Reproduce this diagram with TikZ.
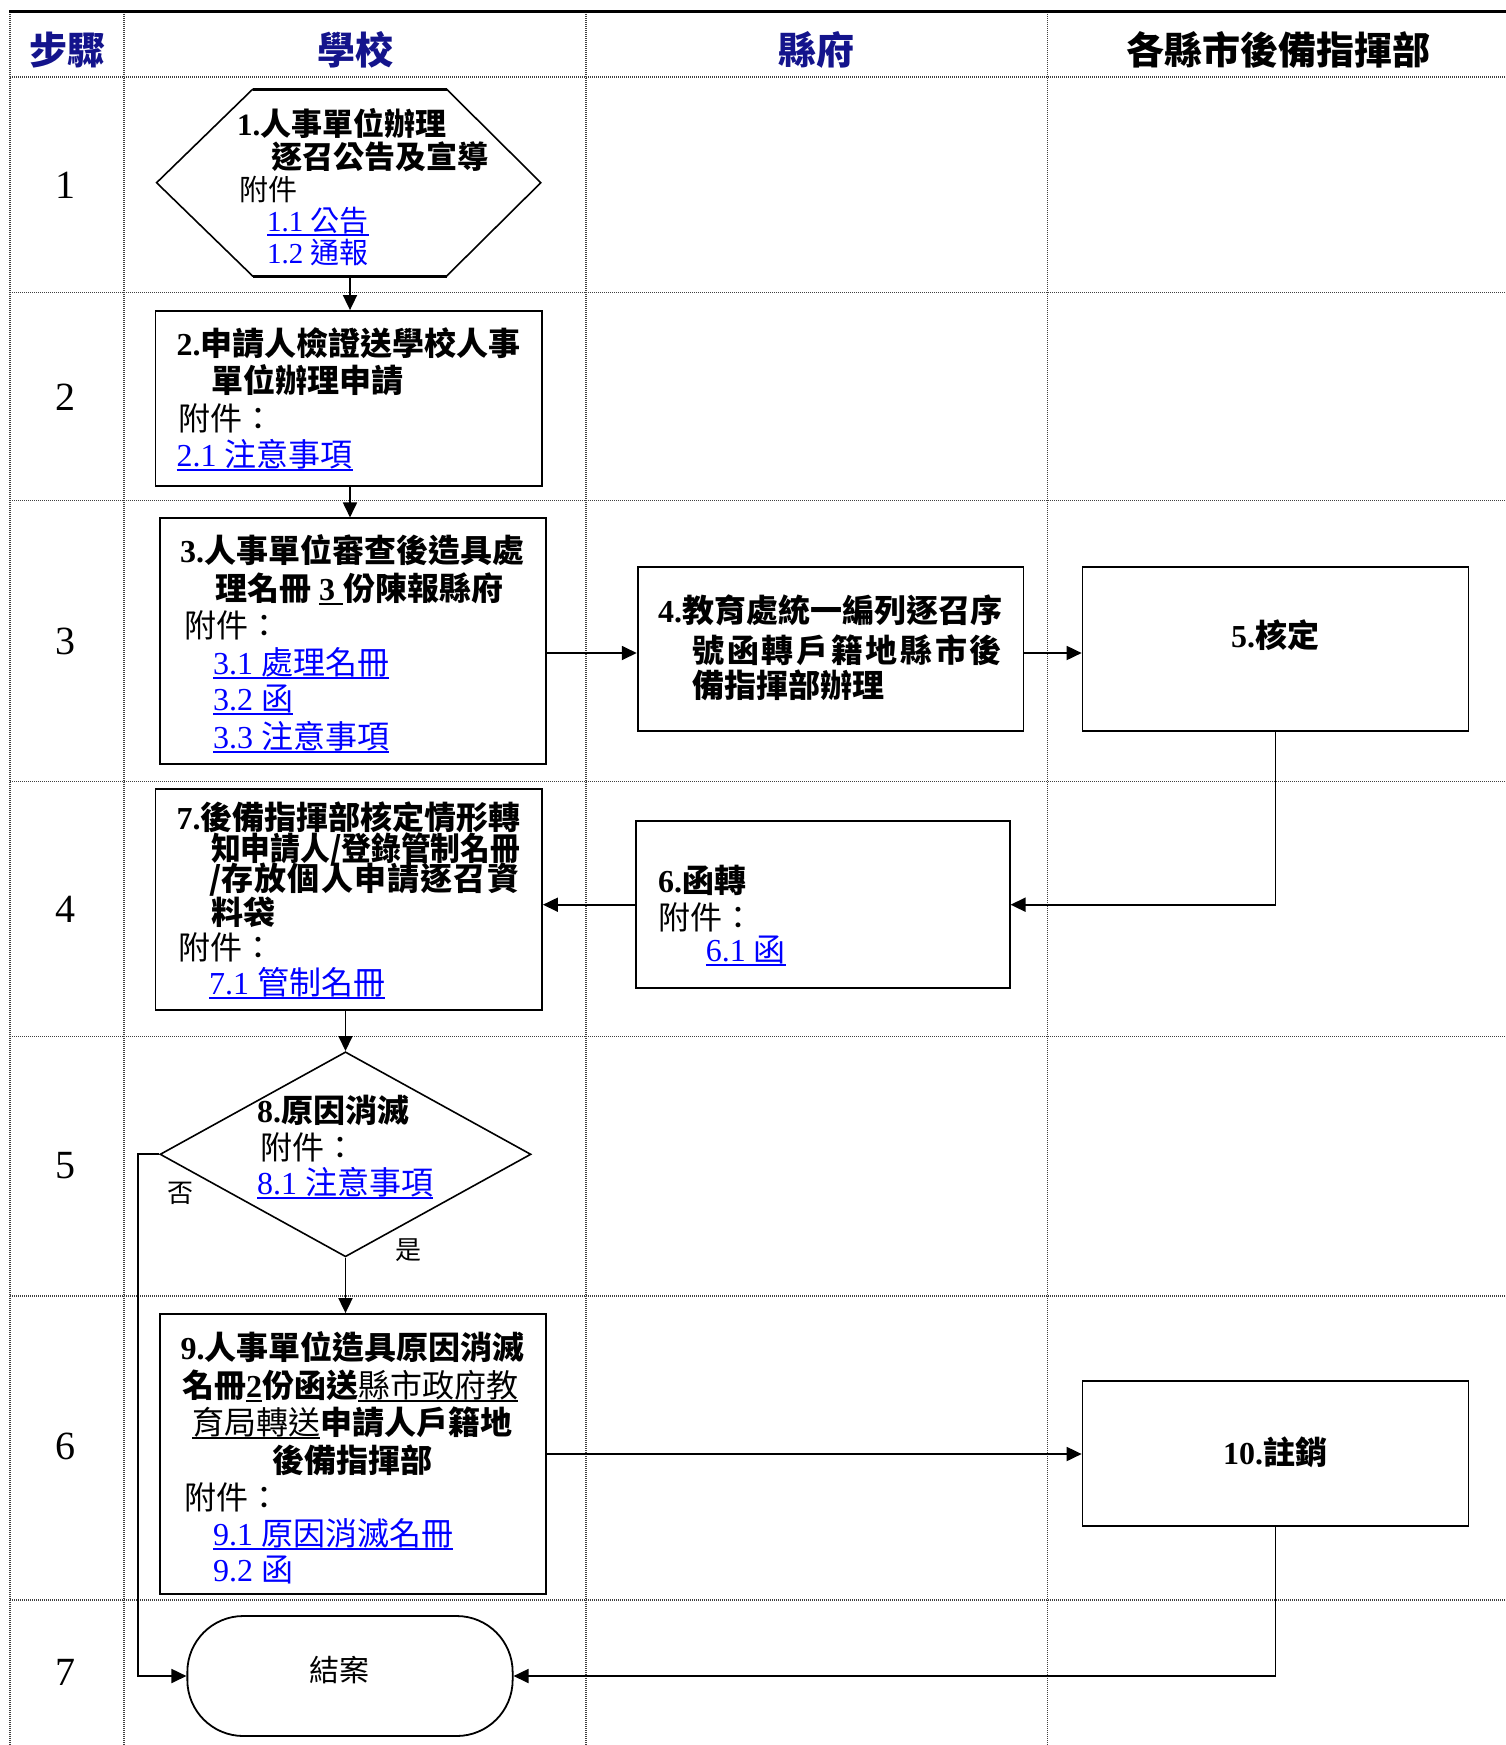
\documentclass[tikz,border=0pt]{standalone}
\usepackage{fontspec}
\setmainfont{Liberation Serif}
\newfontfamily\cjk{Noto Sans CJK TC}
\usetikzlibrary{arrows.meta,shapes.geometric}
\definecolor{navyh}{RGB}{20,20,140}
\definecolor{lnkblue}{RGB}{0,0,255}
\newcommand\lnk[1]{\setbox0\hbox{#1}\rlap{\rule[-5pt]{\wd0}{1.8pt}}\box0}
\newcommand\ulb[1]{\setbox0\hbox{#1}\rlap{\rule[-5pt]{\wd0}{1.6pt}}\box0}
\newcommand\spr[2]{\hbox to #1{#2}}
\begin{document}
\begin{tikzpicture}[x=1pt,y=-1pt,
  grid/.style={line width=1.2pt,black!75,dash pattern=on 1pt off 1pt},
  box/.style={draw,line width=1.8pt,inner sep=0pt},
  tx/.style={anchor=base west,inner sep=0pt,font=\fontsize{32}{36}\selectfont},
  txc/.style={anchor=base,inner sep=0pt,font=\fontsize{32}{36}\selectfont},
  lk/.style={tx,text=lnkblue},
  hd/.style={anchor=center,inner sep=0pt,font=\fontsize{38}{40}\selectfont\bfseries\cjk},
  num/.style={anchor=center,inner sep=0pt,font=\fontsize{40}{44}\selectfont},
  arr/.style={line width=1.8pt,-{Triangle[length=15pt,width=14pt]}},
  ln/.style={line width=1.8pt}]
\useasboundingbox (0,0) rectangle (1506,1745);
\fill[white] (0,0) rectangle (1506,1745);
% grid
\foreach \gx in {10,124,586,1047.5}{\draw[grid] (\gx,12) -- (\gx,1745);}
\foreach \gy in {77,292.7,500.7,781.7,1036.7,1296,1600}{\draw[grid] (10,\gy) -- (1506,\gy);}
\draw[line width=3pt] (9,12) -- (1506,12);
% headers
\node[hd,text=navyh] (hA) at (67,50) {步驟};
\node[hd,text=navyh] (hB) at (355,50) {學校};
\node[hd,text=navyh] (hC) at (816,50) {縣府};
\node[hd] (hD) at (1278,50) {各縣市後備指揮部};
% step numbers
\node[num] (n1) at (65,185) {1};
\node[num] (n2) at (65,397) {2};
\node[num] (n3) at (65,641) {3};
\node[num] (n4) at (65,909) {4};
\node[num] (n5) at (65,1166) {5};
\node[num] (n6) at (65,1446) {6};
\node[num] (n7) at (65,1672) {7};
% hexagon
\coordinate (hx1) at (252.6,89.3);
\coordinate (hx2) at (446.7,89.3);
\coordinate (hx3) at (540.8,182.7);
\coordinate (hx4) at (446.7,276);
\coordinate (hx5) at (252.6,276);
\coordinate (hx6) at (156.6,182.7);
\coordinate (hexS) at (350,276);
\draw[line width=1.6pt] (hx1) -- (hx2) -- (hx3) -- (hx4) -- (hx5) -- (hx6) -- cycle;
\draw[line width=3pt] (hx1) -- (hx2) (hx4) -- (hx5);
\node[tx,font=\fontsize{31}{34}\selectfont] (h1) at (237,135) {\bfseries 1.\cjk 人事單位辦理};
\node[tx,font=\fontsize{31}{34}\selectfont] (h2) at (271,168) {\bfseries\cjk 逐召公告及宣導};
\node[tx,font=\fontsize{29}{34}\selectfont] (h3) at (239,200) {\cjk 附件};
\node[lk,font=\fontsize{29}{34}\selectfont] (h4) at (267,231) {\lnk{1.1 {\cjk 公告}}};
\node[lk,font=\fontsize{29}{34}\selectfont] (h5) at (267,263) {1.2 {\cjk 通報}};
% box 2
\node[box,minimum width=386.5pt,minimum height=174.7pt] (b2) at (348.75,398.35) {};
\node[tx] (t2a) at (176.5,355) {\bfseries 2.\cjk 申請人檢證送學校人事};
\node[tx] (t2b) at (211,392) {\bfseries\cjk 單位辦理申請};
\node[tx] (t2c) at (178.5,430) {\cjk 附件：};
\node[lk] (t2d) at (176.5,466) {\lnk{2.1 {\cjk 注意事項}}};
% box 3
\node[box,minimum width=386pt,minimum height=245.7pt] (b3) at (353,641.2) {};
\node[tx] (t3a) at (180,562) {\bfseries 3.\cjk 人事單位審查後造具處};
\node[tx] (t3b) at (215,600) {\bfseries{\cjk 理名冊} \ulb{3 }{\cjk 份陳報縣府}};
\node[tx] (t3c) at (184,637) {\cjk 附件：};
\node[lk] (t3d) at (213,674) {\lnk{3.1 {\cjk 處理名冊}}};
\node[lk] (t3e) at (213,710) {\lnk{3.2 {\cjk 函}}};
\node[lk] (t3f) at (213,748) {\lnk{3.3 {\cjk 注意事項}}};
% box 4
\node[box,minimum width=385.9pt,minimum height=164.3pt] (b4) at (830.6,648.9) {};
\node[tx] (t4a) at (658,622) {\bfseries 4.\cjk 教育處統一編列逐召序};
\node[tx] (t4b) at (692.5,662) {\bfseries\cjk\spr{309pt}{號\hfil 函\hfil 轉\hfil 戶\hfil 籍\hfil 地\hfil 縣\hfil 市\hfil 後}};
\node[tx] (t4c) at (692.5,697) {\bfseries\cjk 備指揮部辦理};
% box 5
\node[box,minimum width=385.9pt,minimum height=164.3pt] (b5) at (1275.5,648.9) {};
\node[txc] (t5a) at (1275,647) {\bfseries 5.\cjk 核定};
% box 6
\node[box,minimum width=373.3pt,minimum height=167.3pt] (b6) at (823,904.7) {};
\node[tx] (t6a) at (658,892) {\bfseries 6.\cjk 函轉};
\node[tx] (t6b) at (658,929) {\cjk 附件：};
\node[lk] (t6c) at (705.7,961) {\lnk{6.1 {\cjk 函}}};
% box 7
\node[box,minimum width=386.5pt,minimum height=221pt] (b7) at (348.75,899.5) {};
\node[tx] (t7a) at (176.5,829) {\bfseries 7.\cjk 後備指揮部核定情形轉};
\node[tx] (t7b) at (211,860) {\bfseries\cjk\scalebox{0.93}[1]{知申請人/登錄管制名冊}};
\node[tx] (t7c) at (209,890) {\bfseries\cjk\spr{310pt}{/存\hfil 放\hfil 個\hfil 人\hfil 申\hfil 請\hfil 逐\hfil 召\hfil 資}};
\node[tx] (t7d) at (211,924) {\bfseries\cjk 料袋};
\node[tx] (t7e) at (178.5,959) {\cjk 附件：};
\node[lk] (t7f) at (209,994) {\lnk{7.1 {\cjk 管制名冊}}};
% diamond
\node[draw,shape=diamond,line width=1.6pt,inner sep=0pt,minimum width=371pt,minimum height=205pt] (dia) at (345.5,1154.3) {};
\node[tx] (t8a) at (257,1122) {\bfseries 8.\cjk 原因消滅};
\node[tx] (t8b) at (260,1159) {\cjk 附件：};
\node[lk] (t8c) at (257,1194) {\lnk{8.1 {\cjk 注意事項}}};
\node[anchor=center,inner sep=0pt,font=\fontsize{26}{30}\selectfont\cjk] (no) at (180,1193) {否};
\node[anchor=center,inner sep=0pt,font=\fontsize{26}{30}\selectfont\cjk] (yes) at (408,1250) {是};
% box 9
\node[box,minimum width=385.8pt,minimum height=280pt] (b9) at (352.9,1454) {};
\node[tx] (t9a) at (180.4,1359) {\bfseries 9.\cjk 人事單位造具原因消滅};
\node[tx] (t9b) at (182,1397) {{\bfseries\cjk 名冊}{\bfseries\ulb{2}}{\bfseries\cjk 份函送}{\cjk\ulb{縣市政府教}}};
\node[tx] (t9c) at (191.8,1434) {{\cjk\ulb{育局轉送}}{\bfseries\cjk 申請人戶籍地}};
\node[txc] (t9d) at (352.6,1472) {\bfseries\cjk 後備指揮部};
\node[tx] (t9e) at (184.2,1509) {\cjk 附件：};
\node[lk] (t9f) at (213,1545) {\lnk{9.1 {\cjk 原因消滅名冊}}};
\node[lk] (t9g) at (213,1581) {9.2 {\cjk 函}};
% box 10
\node[box,minimum width=385.9pt,minimum height=145pt] (b10) at (1275.5,1453.2) {};
\node[txc] (t10a) at (1275,1464) {\bfseries 10.\cjk 註銷};
% terminator
\node[draw,line width=1.8pt,rounded corners=56pt,minimum width=325.3pt,minimum height=120pt,inner sep=0pt] (term) at (350,1676) {};
\node[anchor=center,inner sep=0pt,font=\fontsize{30}{34}\selectfont\cjk] (tend) at (339,1670) {結案};
% connectors
\draw[arr] (hexS) -- (hexS |- b2.north);
\draw[arr] (hexS |- b2.south) -- (hexS |- b3.north);
\coordinate (y34) at (0,653);
\draw[arr] (b3.east |- y34) -- (b4.west |- y34);
\draw[arr] (b4.east |- y34) -- (b5.west |- y34);
\draw[arr] (b5.south) |- (b6.east);
\draw[arr] (b6.west) -- (b6.west -| b7.east);
\draw[arr] (dia.north |- b7.south) -- (dia.north);
\draw[arr] (dia.south) -- (dia.south |- b9.north);
\coordinate (nL) at (138,1154.3);
\draw[arr] (dia.west) -- (nL) |- (term.west);
\draw[arr] (b9.east) -- (b9.east -| b10.west);
\draw[arr] (b10.south) |- (term.east);
\end{tikzpicture}
\end{document}
